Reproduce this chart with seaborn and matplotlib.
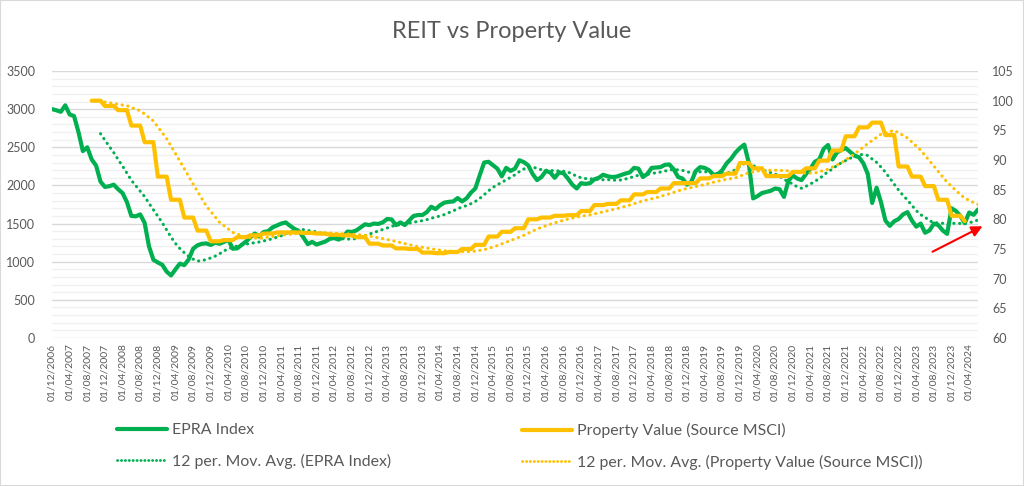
import matplotlib
matplotlib.use("Agg")
import matplotlib.pyplot as plt
from matplotlib.lines import Line2D
from matplotlib.patches import Rectangle
import numpy as np
import pandas as pd
import seaborn as sns

nan = np.nan

# monthly series, first month 01/12/2006
start_month = "2006-12-01"

epra_index = [
    3000, 2985, 2965, 3050, 2930, 2910, 2700, 2450, 2500, 2340, 2260, 2050,
    1980, 1990, 2010, 1950, 1900, 1780, 1600, 1595, 1620, 1510, 1200, 1025,
    990, 960, 870, 820, 900, 975, 955, 1030, 1170, 1215, 1235, 1240,
    1220, 1250, 1235, 1260, 1285, 1170, 1175, 1220, 1265, 1320, 1370, 1330,
    1390, 1400, 1450, 1475, 1500, 1515, 1470, 1430, 1400, 1320, 1230, 1260,
    1225, 1245, 1265, 1300, 1310, 1290, 1320, 1395, 1390, 1410, 1450, 1490,
    1480, 1500, 1495, 1515, 1560, 1555, 1480, 1515, 1480, 1540, 1600, 1612,
    1612, 1650, 1720, 1690, 1740, 1775, 1785, 1790, 1835, 1790, 1830, 1905,
    1960, 2133, 2300, 2310, 2265, 2220, 2120, 2230, 2190, 2220, 2330, 2305,
    2263, 2150, 2070, 2110, 2190, 2170, 2100, 2170, 2160, 2090, 2010, 1960,
    2030, 2020, 2030, 2080, 2100, 2140, 2120, 2110, 2115, 2135, 2155, 2170,
    2230, 2220, 2110, 2150, 2230, 2235, 2240, 2270, 2275, 2210, 2110, 2090,
    2010, 2050, 2190, 2240, 2230, 2200, 2140, 2145, 2200, 2290, 2350, 2430,
    2490, 2535, 2300, 1830, 1860, 1900, 1915, 1930, 1960, 1950, 1850, 2060,
    2130, 2090, 2070, 2150, 2220, 2310, 2340, 2480, 2530, 2340, 2430, 2465,
    2490, 2440, 2390, 2370, 2290, 2150, 1770, 1970, 1780, 1540, 1470, 1530,
    1560, 1620, 1650, 1540, 1460, 1500, 1380, 1410, 1500, 1480, 1410, 1365,
    1700, 1665, 1600, 1505, 1645, 1615, 1685,
]

property_value = [
    nan, nan, nan, nan, nan, nan, nan, nan, nan, 100.0, 100.0, 100.0,
    99.1, 99.1, 99.1, 98.4, 98.4, 98.4, 95.8, 95.8, 95.8, 93.0, 93.0, 93.0,
    87.2, 87.2, 87.2, 83.3, 83.3, 83.3, 80.3, 80.3, 80.3, 78.1, 78.1, 78.1,
    76.3, 76.3, 76.3, 76.5, 76.5, 76.5, 77.0, 77.0, 77.0, 77.3, 77.3, 77.3,
    77.6, 77.6, 77.6, 77.8, 77.8, 77.8, 77.8, 77.8, 77.8, 77.7, 77.7, 77.7,
    77.6, 77.6, 77.6, 77.4, 77.4, 77.4, 77.3, 77.3, 77.3, 77.0, 77.0, 77.0,
    75.9, 75.9, 75.9, 75.6, 75.6, 75.6, 75.1, 75.1, 75.1, 75.0, 75.0, 75.0,
    74.4, 74.4, 74.4, 74.3, 74.3, 74.3, 74.5, 74.5, 74.5, 75.0, 75.0, 75.0,
    75.7, 75.7, 75.7, 77.1, 77.1, 77.1, 77.9, 77.9, 77.9, 78.5, 78.5, 78.5,
    80.0, 80.0, 80.0, 80.3, 80.3, 80.3, 80.6, 80.6, 80.6, 80.7, 80.7, 80.7,
    81.4, 81.4, 81.4, 82.4, 82.4, 82.4, 82.6, 82.6, 82.6, 83.2, 83.2, 83.2,
    84.2, 84.2, 84.2, 84.6, 84.6, 84.6, 85.2, 85.2, 85.2, 86.1, 86.1, 86.1,
    86.1, 86.1, 86.1, 86.9, 86.9, 86.9, 87.3, 87.3, 87.3, 87.7, 87.7, 87.7,
    89.5, 89.5, 89.5, 88.6, 88.6, 88.6, 87.3, 87.3, 87.3, 87.3, 87.3, 87.3,
    88.0, 88.0, 88.0, 88.6, 88.6, 88.6, 89.9, 89.9, 89.9, 91.6, 91.6, 91.6,
    94.0, 94.0, 94.0, 95.5, 95.5, 95.5, 96.3, 96.3, 96.3, 94.2, 94.2, 94.2,
    88.9, 88.9, 88.9, 87.2, 87.2, 87.2, 85.6, 85.6, 85.6, 83.3, 83.3, 83.3,
    80.6, 80.6, 80.6, 79.7, nan, nan, nan,
]

labels = ["EPRA Index", "Property Value (Source MSCI)",
          "12 per. Mov. Avg. (EPRA Index)",
          "12 per. Mov. Avg. (Property Value (Source MSCI))"]

dates = pd.date_range(start_month, periods=len(epra_index), freq="MS")
df = pd.DataFrame({"idx": np.arange(len(dates)), "epra": epra_index,
                   "prop": property_value})
df["epra_ma"] = df["epra"].rolling(12).mean()
df["prop_ma"] = df["prop"].rolling(12, min_periods=4).mean()

sns.set_theme(style="white")
plt.rcParams["font.family"] = ["Lato", "DejaVu Sans"]

GREEN = "#00B050"
YELLOW = "#FFC000"
GREY = "#595959"
DOT = (0, (0.1, 1.8))

fig = plt.figure(figsize=(10.24, 4.86), dpi=100)
ax = fig.add_axes([52 / 1024, 1 - 338 / 486, 926 / 1024, 267 / 486])
ax2 = ax.twinx()

sns.lineplot(data=df, x="idx", y="epra", ax=ax, color=GREEN, linewidth=3,
             errorbar=None, solid_joinstyle="round")
sns.lineplot(data=df, x="idx", y="epra_ma", ax=ax, color=GREEN, linewidth=2.2,
             linestyle=DOT, dash_capstyle="round", errorbar=None)
sns.lineplot(data=df, x="idx", y="prop", ax=ax2, color=YELLOW, linewidth=3,
             errorbar=None, solid_joinstyle="round")
sns.lineplot(data=df, x="idx", y="prop_ma", ax=ax2, color=YELLOW, linewidth=2.2,
             linestyle=DOT, dash_capstyle="round", errorbar=None)

ax.set_xlim(0, len(df) - 1)
ax.set_ylim(0, 3500)
ax2.set_ylim(60, 105)
ax.set_yticks(range(0, 3501, 500))
ax.set_yticks(range(0, 3501, 100), minor=True)
ax2.set_yticks(range(60, 106, 5))
ax.grid(which="minor", axis="y", color="#F0F0F0", linewidth=1)
ax.grid(which="major", axis="y", color="#D9D9D9", linewidth=1)
ax.set_axisbelow(True)

ax.set_xticks(df["idx"][::4])
ax.set_xticklabels(dates.strftime("%d/%m/%Y")[::4], rotation=90)

for a in (ax, ax2):
    a.set_xlabel("")
    a.set_ylabel("")
    for s in a.spines.values():
        s.set_visible(False)
    a.tick_params(length=0, which="both", colors=GREY)
ax.tick_params(axis="x", labelsize=7.5, pad=4)
ax.tick_params(axis="y", labelsize=9, pad=12)
ax2.tick_params(axis="y", labelsize=9, pad=10)

fig.text(0.5, 1 - 32 / 486, "REIT vs Property Value", ha="center", va="center",
         fontsize=17, color=GREY)

leg_kw = dict(loc="upper left", frameon=False, fontsize=11.4, handlelength=3.15,
              handletextpad=0.32, labelspacing=1.05, borderpad=0, borderaxespad=0,
              labelcolor=GREY)
h_green = [Line2D([], [], color=GREEN, lw=3, solid_capstyle="round"),
           Line2D([], [], color=GREEN, lw=2, ls=(0, (0.1, 1.3)), dash_capstyle="round")]
h_yellow = [Line2D([], [], color=YELLOW, lw=3, solid_capstyle="round"),
            Line2D([], [], color=YELLOW, lw=2, ls=(0, (0.1, 1.3)), dash_capstyle="round")]
fig.legend(h_green, [labels[0], labels[2]], bbox_to_anchor=(117 / 1024, 1 - 423 / 486), **leg_kw)
fig.legend(h_yellow, [labels[1], labels[3]], bbox_to_anchor=(522 / 1024, 1 - 423 / 486), **leg_kw)

ax.annotate("", xy=(985, 486 - 225), xytext=(930, 486 - 253),
            xycoords="figure pixels", textcoords="figure pixels",
            arrowprops=dict(arrowstyle="-|>", color="red", lw=1.5, mutation_scale=16))

fig.add_artist(Rectangle((0, 0), 1, 1, transform=fig.transFigure, fill=False,
                         edgecolor="#D9D9D9", linewidth=1.5))

fig.savefig("out.png", dpi=100)
